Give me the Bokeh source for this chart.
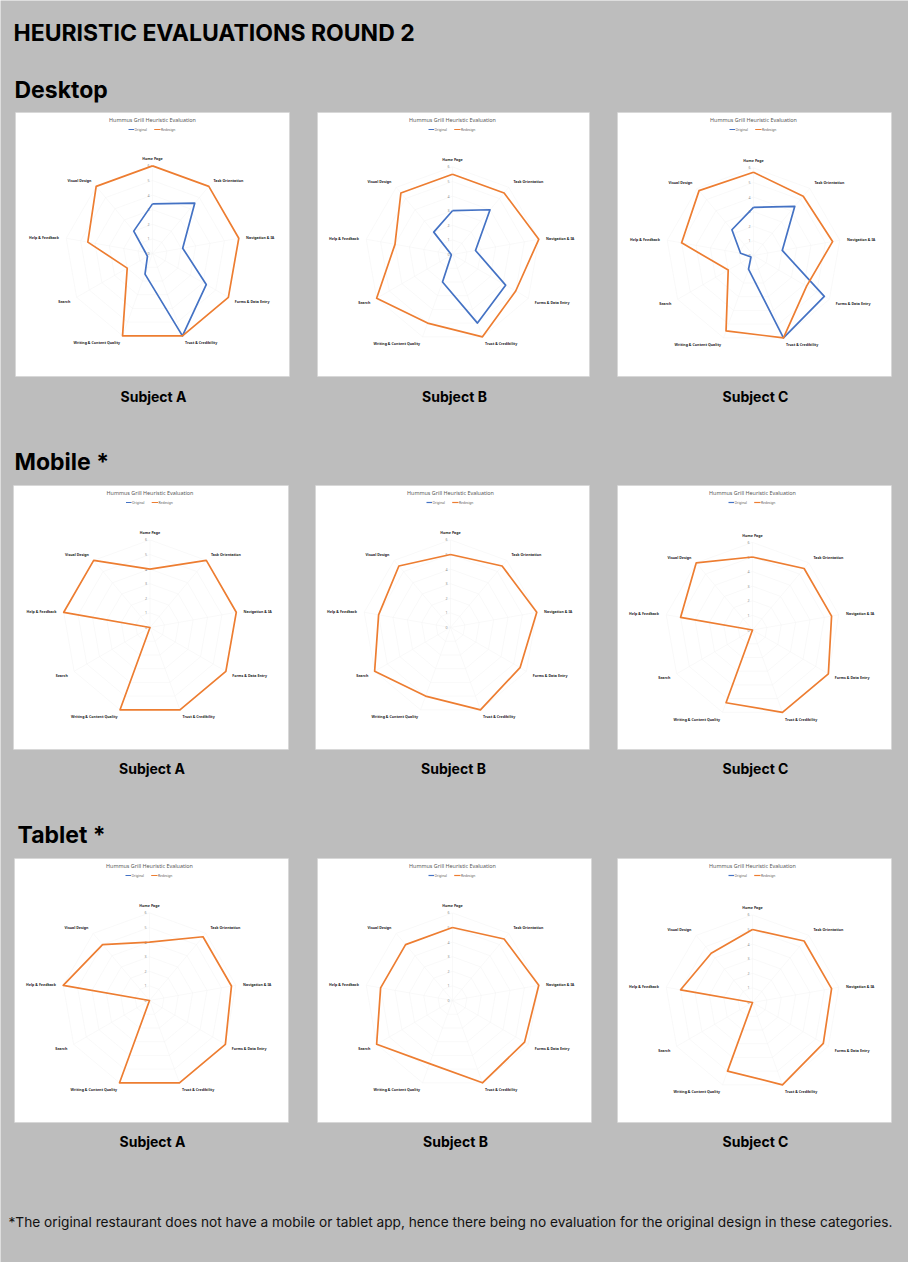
import math
from bokeh.plotting import figure
from bokeh.models import Range1d
from bokeh.core.properties import value
from bokeh.embed import file_html
from bokeh.resources import INLINE

# ---------------- data ----------------
CATEGORIES = ["Home Page", "Task Orientation", "Navigation & IA", "Forms & Data Entry",
              "Trust & Credibility", "Writing & Content Quality", "Search",
              "Help & Feedback", "Visual Design"]
SCORE_TICKS = [0, 1, 2, 3, 4, 5, 6]
TICK_LABELS = ["0", "1", "2", "3", "4", "5", "6"]
SERIES_NAMES = ["Original", "Redesign"]
SUBJECTS = ["Subject A", "Subject B", "Subject C"]
SECTIONS = ["Desktop", "Mobile *", "Tablet *"]

desktop_a_original = [3.4, 4.5, 2.1, 4.25, 6, 1.5, 0.4, 0.5, 2]
desktop_a_redesign = [6, 6, 6, 6, 6, 6, 2, 4.5, 6]
desktop_b_original = [3, 4, 1.6, 4.2, 5, 2, 0.1, 0.1, 2]
desktop_b_redesign = [5.5, 5.5, 6, 5, 6, 5, 6, 4, 5.5]
desktop_c_original = [3.3, 4.4, 2, 5.6, 6, 1, 0.2, 0.9, 2.3]
desktop_c_redesign = [5.7, 5.3, 5.5, 4.2, 6, 5.5, 2, 5, 5.8]
mobile_a_redesign = [4, 6, 6, 6, 6, 6, 0, 6, 6]
mobile_b_redesign = [5, 5.5, 6, 5.5, 6, 5, 6, 5, 5.5]
mobile_c_redesign = [5, 5.5, 5.5, 6, 6, 5.3, 0, 5, 6]
tablet_a_redesign = [4, 5.7, 5.7, 6, 6, 6, 0, 6, 5]
tablet_b_redesign = [5, 5.5, 6, 5.7, 6, 4.6, 6, 5, 5]
tablet_c_redesign = [5, 5.5, 5.5, 5.6, 6, 5, 0, 5, 4.4]

TITLE = "HEURISTIC EVALUATIONS ROUND 2"
CHART_TITLE = "Hummus Grill Heuristic Evaluation"
FOOTNOTE = ("*The original restaurant does not have a mobile or tablet app, hence there being "
            "no evaluation for the original design in these categories.")

# ---------------- layout / style ----------------
BG = "#bdbdbd"
BLUE = "#4472c4"
ORANGE = "#ed7d31"
UNIT = 14.6          # px per score unit
LABEL_R = 95

W, H = 908, 1262
p = figure(width=W, height=H, x_range=Range1d(8, 8 + W), y_range=Range1d(8 + H, 8),
           output_backend="svg", toolbar_location=None, min_border=0)
p.axis.visible = False
p.grid.visible = False
p.outline_line_color = None
p.background_fill_color = BG
p.border_fill_color = BG

HEAD_FONT = value("Inter")

p.text(x=[21], y=[40], text=[TITLE], text_font=HEAD_FONT, text_font_size=value("23px"),
       text_font_style="bold", text_color="#000000", text_baseline="middle")

section_y = [97, 469, 842]
section_x = [22, 22, 25]
for s, sx, sy in zip(SECTIONS, section_x, section_y):
    p.text(x=[sx], y=[sy], text=[s], text_font=HEAD_FONT, text_font_size=value("23px"),
           text_font_style="bold", text_color="#000000", text_baseline="middle")

rows = [
    dict(top=120, bottom=384, sub_y=404,
         cards=[(23, 297), (325, 597), (625, 899)],
         centers=[(160, 261), (460, 262), (761, 263)],
         orig=[desktop_a_original, desktop_b_original, desktop_c_original],
         red=[desktop_a_redesign, desktop_b_redesign, desktop_c_redesign]),
    dict(top=493, bottom=757, sub_y=776,
         cards=[(21, 296), (323, 597), (625, 899)],
         centers=[(157.5, 635), (458, 635), (760, 637.5)],
         orig=[None, None, None],
         red=[mobile_a_redesign, mobile_b_redesign, mobile_c_redesign]),
    dict(top=866, bottom=1130, sub_y=1149,
         cards=[(22, 296), (325, 599), (625, 899)],
         centers=[(157, 1008), (460, 1008), (760, 1010)],
         orig=[None, None, None],
         red=[tablet_a_redesign, tablet_b_redesign, tablet_c_redesign]),
]

N = len(CATEGORIES)
angles = [2 * math.pi * i / N for i in range(N)]


def radar(vals, cx, cy):
    xs = [cx + v * UNIT * math.sin(a) for v, a in zip(vals, angles)]
    ys = [cy - v * UNIT * math.cos(a) for v, a in zip(vals, angles)]
    return xs + xs[:1], ys + ys[:1]


for row in rows:
    top, bottom = row["top"], row["bottom"]
    for j in range(3):
        l, r = row["cards"][j]
        cx, cy = row["centers"][j]
        p.quad(left=[l], right=[r], top=[top], bottom=[bottom], fill_color="#ffffff",
               line_color="#d4d4d4", line_width=0.6)
        # gridlines
        ring_x, ring_y = [], []
        for k in SCORE_TICKS[1:]:
            xs, ys = radar([k] * N, cx, cy)
            ring_x.append(xs)
            ring_y.append(ys)
        p.multi_line(xs=ring_x, ys=ring_y, line_color="#f3f3f3", line_width=0.5)
        mx = SCORE_TICKS[-1]
        p.multi_line(xs=[[cx, cx + mx * UNIT * math.sin(a)] for a in angles],
                     ys=[[cy, cy - mx * UNIT * math.cos(a)] for a in angles],
                     line_color="#f3f3f3", line_width=0.5)
        # tick labels
        p.text(x=[cx - 3] * len(SCORE_TICKS), y=[cy - k * UNIT for k in SCORE_TICKS],
               text=TICK_LABELS, text_font=value("Noto Sans"), text_font_size=value("3.6px"),
               text_color="#8c8c8c", text_align="right", text_baseline="middle")
        # category labels
        for i, (cat, a) in enumerate(zip(CATEGORIES, angles)):
            lx = cx + LABEL_R * math.sin(a)
            ly = cy - LABEL_R * math.cos(a)
            align = "center" if i == 0 else ("left" if i <= 4 else "right")
            p.text(x=[lx], y=[ly], text=[cat], text_font=value("Noto Sans"),
                   text_font_size=value("3.6px"), text_font_style="bold",
                   text_color="#262626", text_align=align, text_baseline="middle")
        # series
        if row["orig"][j] is not None:
            xs, ys = radar(row["orig"][j], cx, cy)
            p.line(xs, ys, line_color=BLUE, line_width=1.7, line_join="round")
        xs, ys = radar(row["red"][j], cx, cy)
        p.line(xs, ys, line_color=ORANGE, line_width=1.7, line_join="round")
        # chart title and legend
        ccx = cx
        p.text(x=[ccx], y=[top + 7], text=[CHART_TITLE], text_font=value("Noto Sans"),
               text_font_size=value("5.4px"), text_color="#595959",
               text_align="center", text_baseline="middle")
        ly = top + 17
        p.line([ccx - 24, ccx - 18.5], [ly, ly], line_color=BLUE, line_width=1.2)
        p.text(x=[ccx - 18], y=[ly], text=[SERIES_NAMES[0]], text_font=value("Noto Sans"),
               text_font_size=value("3.3px"), text_color="#595959", text_baseline="middle")
        p.line([ccx + 1.7, ccx + 8], [ly, ly], line_color=ORANGE, line_width=1.2)
        p.text(x=[ccx + 8.5], y=[ly], text=[SERIES_NAMES[1]], text_font=value("Noto Sans"),
               text_font_size=value("3.3px"), text_color="#595959", text_baseline="middle")
        # subject label
        p.text(x=[(l + r) / 2 + 1], y=[row["sub_y"]], text=[SUBJECTS[j]], text_font=HEAD_FONT,
               text_font_size=value("14px"), text_font_style="bold", text_color="#000000",
               text_align="center", text_baseline="middle")

p.text(x=[16], y=[1229], text=[FOOTNOTE], text_font=value("Inter"),
       text_font_size=value("13.7px"), text_color="#111111", text_baseline="middle")

open("out.html", "w").write(file_html(p, INLINE))
